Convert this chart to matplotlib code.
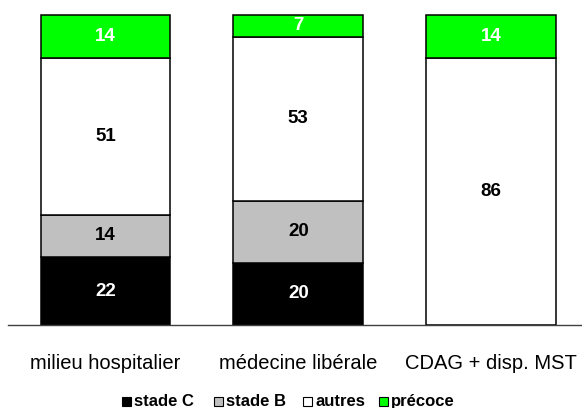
import numpy as np
import matplotlib
matplotlib.use("Agg")
import matplotlib.pyplot as plt
from matplotlib.patches import Rectangle

plt.rcParams['font.family'] = ['Liberation Sans', 'DejaVu Sans']

# Données (%)
categories = ['milieu hospitalier', 'médecine libérale', 'CDAG + disp. MST']
series = ['stade C', 'stade B', 'autres', 'précoce']
stade_c = [22, 20, 0]
stade_b = [14, 20, 0]
autres = [51, 53, 86]
precoce = [14, 7, 14]

colors = ['#000000', '#c0c0c0', '#ffffff', '#00ff00']
text_colors = ['white', 'black', 'black', 'white']

data = np.array([stade_c, stade_b, autres, precoce], dtype=float)
# barres empilées à 100 %
shares = data / data.sum(axis=0) * 100

W, H = 582, 408
fig = plt.figure(figsize=(W / 100, H / 100), dpi=100)
ax = fig.add_axes([8 / W, 83 / H, 1 - 8 / W, 310 / H])

x = np.arange(len(categories))
width = 0.674
bottom = np.zeros(len(categories))
for vals, shr, col, tcol in zip(data, shares, colors, text_colors):
    ax.bar(x, shr, width, bottom=bottom, color=col, edgecolor='black',
           linewidth=1.1, clip_on=False, zorder=2)
    for xi, b, h, v in zip(x, bottom, shr, vals):
        if v > 0:
            ax.text(xi, b + h / 2, f"{v:.0f}", ha='center', va='center',
                    color=tcol, fontsize=13.5, fontweight='bold', zorder=3)
    bottom += shr

ax.set_xlim(-0.506, 2.472)
ax.set_ylim(0, 100)
for s in ['top', 'left', 'right']:
    ax.spines[s].set_visible(False)
ax.spines['bottom'].set_color('#404040')
ax.spines['bottom'].set_linewidth(1.0)
ax.set_yticks([])
ax.set_xticks(x)
ax.set_xticklabels(categories, fontsize=14.5)
ax.tick_params(axis='x', length=0, pad=21)

# légende en bas (alignée sur la ligne de base)
leg_x = [122, 214, 303, 379]
for lx, lab, col in zip(leg_x, series, colors):
    fig.add_artist(Rectangle((lx / W, 1 - 406 / H), 9 / W, 9 / H, transform=fig.transFigure,
                             facecolor=col, edgecolor='black', linewidth=0.8))
    fig.text((lx + 12) / W, 1 - 406 / H, lab, ha='left', va='baseline',
             fontsize=12, fontweight='bold')

fig.savefig('out.png', dpi=100)
